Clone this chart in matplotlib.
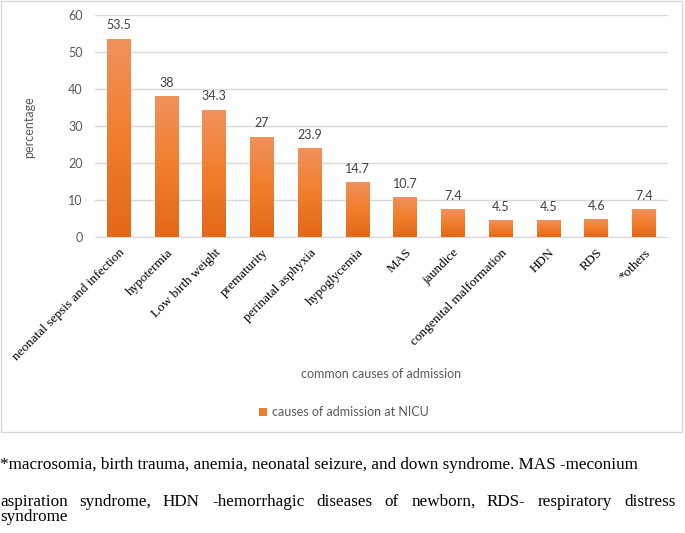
import matplotlib.pyplot as plt
import numpy as np
from matplotlib.colors import LinearSegmentedColormap
from matplotlib.patches import Rectangle
from matplotlib.textpath import TextPath
from matplotlib.font_manager import FontProperties

causes = ["neonatal sepsis and infection", "hypotermia", "Low birth weight",
          "prematurity", "perinatal asphyxia", "hypoglycemia", "MAS",
          "jaundice", "congenital malformation", "HDN", "RDS", "*others"]
percent = [53.5, 38, 34.3, 27, 23.9, 14.7, 10.7, 7.4, 4.5, 4.5, 4.6, 7.4]

note1 = "*macrosomia, birth trauma, anemia, neonatal seizure, and down syndrome. MAS -meconium"
note2 = "aspiration syndrome, HDN -hemorrhagic diseases of newborn, RDS- respiratory distress"
note3 = "syndrome"

W, H = 685, 533
fig = plt.figure(figsize=(W / 100, H / 100), dpi=100)
ax = fig.add_axes([95 / W, 1 - 237 / H, 573 / W, 222 / H])

# outer chart frame
fig.patches.append(Rectangle((1 / W, 1 - 432 / H), 681 / W, 431 / H,
                             transform=fig.transFigure, fill=False,
                             edgecolor="#D9D9D9", linewidth=1))

x = np.arange(len(causes))
bars = ax.bar(x, percent, width=0.5, color="#F07F2A", zorder=2,
              label="causes of admission at NICU")

# vertical gradient inside each bar
cmap = LinearSegmentedColormap.from_list("og", ["#E2681A", "#F27E2C", "#F0915C"])
grad = np.linspace(0, 1, 100).reshape(-1, 1)
for b in bars:
    bx, bw, bh = b.get_x(), b.get_width(), b.get_height()
    ax.imshow(grad, extent=[bx, bx + bw, 0, bh], origin="lower", cmap=cmap,
              aspect="auto", zorder=3)
    ax.text(bx + bw / 2, bh + 3.7, f"{bh:g}", ha="center", va="center",
            fontsize=9, color="#404040", family="Lato")

ax.set_xlim(-0.5, len(causes) - 0.5)
ax.set_ylim(0, 60)
ax.set_yticks(range(0, 61, 10))
ax.grid(axis="y", color="#D9D9D9", linewidth=1, zorder=0)
ax.set_axisbelow(True)
for s in ["top", "right", "left"]:
    ax.spines[s].set_visible(False)
ax.spines["bottom"].set_color("#D9D9D9")
ax.tick_params(axis="both", length=0)
ax.tick_params(axis="y", labelsize=9, labelcolor="#595959", pad=9)
for t in ax.get_yticklabels():
    t.set_family("Lato")

ax.set_xticks(x)
ax.set_xticklabels(causes, rotation=45, ha="right", va="top",
                   rotation_mode="anchor", family="Liberation Serif",
                   fontsize=9.5, color="black")
ax.tick_params(axis="x", pad=7)

fig.text(29 / W, 1 - 127 / H, "percentage", rotation=90, ha="center",
         va="center", fontsize=9, color="#595959", family="Lato")
fig.text(381 / W, 1 - 374 / H, "common causes of admission", ha="center",
         va="center", fontsize=9, color="#595959", family="Lato")

leg = fig.legend(loc="center", bbox_to_anchor=(344 / W, 1 - 412 / H),
                 frameon=False, handlelength=0.6, handleheight=0.6,
                 handletextpad=0.4, prop={"family": "Lato", "size": 9})
for t in leg.get_texts():
    t.set_color("#595959")

# footnotes
fs = 12.3
fig.text(0, 1 - 465 / H, note1, ha="left", va="center", fontsize=fs,
         family="Liberation Serif")
fig.text(0, 1 - 517 / H, note3, ha="left", va="center", fontsize=fs,
         family="Liberation Serif")

# justified second line
fp = FontProperties(family="Liberation Serif", size=fs)
words = note2.split()
widths = []
for w_ in words:
    tp = TextPath((0, 0), w_, size=fs, prop=fp)
    widths.append(tp.get_extents().x1 * 100 / 72)
total = 675
gap = (total - sum(widths)) / (len(words) - 1)
pos = 0
for w_, wd in zip(words, widths):
    fig.text(pos / W, 1 - 502 / H, w_, ha="left", va="center", fontsize=fs,
             family="Liberation Serif")
    pos += wd + gap

fig.savefig("out.png", dpi=100)
